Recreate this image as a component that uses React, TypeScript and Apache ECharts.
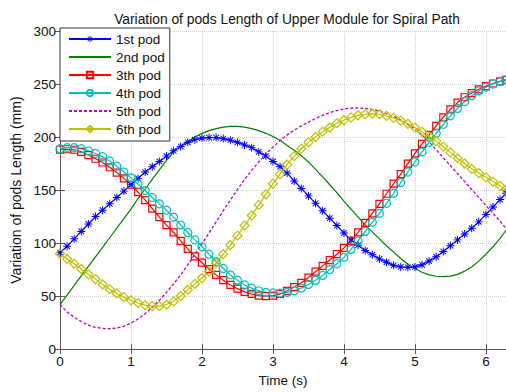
import React, { useEffect, useRef } from "react";
import * as echarts from "echarts";

const T = [0, 0.1, 0.2, 0.3, 0.4, 0.5, 0.6, 0.7, 0.8, 0.9,
  1.0, 1.1, 1.2, 1.3, 1.4, 1.5, 1.6, 1.7, 1.8, 1.9,
  2.0, 2.1, 2.2, 2.3, 2.4, 2.5, 2.6, 2.7, 2.8, 2.9,
  3.0, 3.1, 3.2, 3.3, 3.4, 3.5, 3.6, 3.7, 3.8, 3.9,
  4.0, 4.1, 4.2, 4.3, 4.4, 4.5, 4.6, 4.7, 4.8, 4.9,
  5.0, 5.1, 5.2, 5.3, 5.4, 5.5, 5.6, 5.7, 5.8, 5.9,
  6.0, 6.1, 6.2, 6.2832];

const pod1 = [91, 97, 104, 111, 118, 125, 131, 137, 143, 149,
  155, 161, 167, 172, 177, 182, 187, 191, 195, 197.5,
  199, 199.5, 199.5, 198.5, 197, 195, 192.5, 190, 186, 182,
  177, 172, 166, 158.5, 151.5, 144.5, 137.5, 130.5, 123.5, 116.5,
  109.5, 103, 98, 93, 89, 85, 82, 79, 77.5, 77,
  77.5, 79.5, 83, 87, 92, 97.5, 103, 108.5, 114, 120,
  127, 134, 141, 147];

const pod2 = [42, 51, 60, 69, 78, 87, 96, 105, 114, 123,
  132, 142, 151, 160, 169, 178, 186, 191.5, 196, 200,
  203.5, 206, 208, 209.3, 210, 210, 209.3, 208, 206, 203.5,
  200.5, 197, 192, 187.5, 182.5, 176.5, 169.5, 162.5, 155, 147.5,
  139.5, 132, 124.5, 117, 110.5, 104, 97.5, 91.5, 85.5, 80,
  76, 72.5, 70, 68.7, 68.3, 68.8, 70.5, 73.5, 77.5, 83,
  89.5, 96.5, 104.5, 112];

const pod3 = [188, 188.5, 188, 186, 183, 179.5, 176, 171.5, 166.5, 161,
  155, 148, 140.5, 132.5, 124.5, 117, 110, 102, 94.5, 87.5,
  81.5, 75.5, 70, 65, 60.5, 57, 54, 52, 50.5, 50,
  50.5, 52, 55, 58.5, 62.5, 67.5, 73, 78.5, 84, 89.5,
  95.5, 102, 110, 119, 128, 137, 146.5, 156, 165, 175,
  184.5, 193.5, 202, 210.5, 218.5, 226, 232.5, 237.5, 241.5, 245,
  248, 250.5, 252.5, 254];

const pod4 = [189, 190, 190, 189, 187, 184.5, 181.5, 177.5, 172.5, 167,
  161.5, 155.5, 149.5, 143, 137, 131, 124.5, 117, 110, 103,
  96.5, 89.5, 82.5, 76, 70, 65, 60.5, 57.5, 55, 53.5,
  53, 52.8, 53.5, 55, 57.5, 61, 65, 69.5, 75, 80.5,
  86.5, 94, 102, 111, 119.5, 128, 137.5, 147, 157, 167,
  176.5, 186, 195, 203.5, 212, 220, 227, 233.5, 239, 243.5,
  247, 250, 252.5, 254];

const pod5 = [42, 35, 30, 26, 22.5, 20.5, 19.5, 19.2, 19.8, 21.5,
  24.5, 28.5, 33.5, 39.5, 46, 53.5, 61.5, 70, 79.5, 89.5,
  99.5, 109.5, 120, 130.5, 140.5, 150.5, 160, 168.5, 176.5, 184,
  190.5, 196.5, 202, 206.5, 210.5, 214, 217.5, 220.5, 223, 225,
  226.5, 227.3, 227.5, 227, 226, 224.5, 222, 219.5, 216, 212,
  207.5, 202, 195.5, 188, 180.5, 173, 165.5, 158, 150.5, 143,
  135.5, 128, 120.5, 114];

const pod6 = [90, 85, 80.5, 75.5, 70.5, 66, 61, 56.5, 52.5, 49,
  46, 43.5, 41.5, 40.5, 40.5, 42, 45, 50, 56, 61.5,
  67, 73, 81, 89.5, 98, 107, 116.5, 126, 136, 146,
  156, 165, 174, 182, 189, 195, 200, 205, 209, 213,
  216, 218.5, 220.5, 221.5, 222, 221.5, 220, 218, 215.5, 212.5,
  209, 205, 200.5, 196, 191, 185.5, 180, 175, 170, 166,
  162, 158, 154, 150];

const seriesNames = ["1st pod", "2nd pod", "3th pod", "4th pod", "5th pod", "6th pod"];
const xTicks = [0, 1, 2, 3, 4, 5, 6];
const yTicks = [0, 50, 100, 150, 200, 250, 300];

const FONT = "'Liberation Sans', Arial, Helvetica, sans-serif";
const STAR =
  "path://M0,4.4L10,4.4L10,5.6L0,5.6Z M4.4,0L5.6,0L5.6,10L4.4,10Z M1.92,1.08L8.92,8.08L8.08,8.92L1.08,1.92Z M8.08,1.08L8.92,1.92L1.92,8.92L1.08,8.08Z";

function pairs(vals: number[]) {
  return T.map((t, i) => [t, vals[i]]);
}

export default function App() {
  const ref = useRef<HTMLDivElement>(null);
  useEffect(() => {
    if (!ref.current) return;
    const chart = echarts.init(ref.current, undefined, { renderer: "svg" });
    const axisColor = "#555";
    const labelStyle = { color: "#111", fontSize: 13.5, fontFamily: FONT };
    const mk = (
      name: string,
      data: number[],
      color: string,
      symbol: string,
      size: number,
      filled: boolean,
      lineType: any = "solid",
      lw = 1.2
    ) => ({
      type: "line",
      name,
      data: pairs(data),
      color,
      symbol,
      symbolSize: size,
      showSymbol: symbol !== "none",
      lineStyle: { color, width: lw, type: lineType },
      itemStyle:
        symbol === "none"
          ? { color: "rgba(255,255,255,0)", borderColor: "rgba(255,255,255,0)", borderWidth: 0 }
          : filled
          ? { color, borderColor: color, borderWidth: 0 }
          : { color: "rgba(255,255,255,0)", borderColor: color, borderWidth: 1.2 },
      emphasis: { disabled: true },
      silent: true,
    });
    chart.setOption({
      animation: false,
      backgroundColor: "#fff",
      title: {
        text: "Variation of pods Length of Upper Module for Spiral Path",
        left: 282,
        top: 7,
        textAlign: "center",
        textStyle: { fontSize: 13.8, fontWeight: "normal", color: "#111", fontFamily: FONT },
      },
      legend: {
        data: seriesNames,
        orient: "vertical",
        left: 60,
        top: 28,
        itemWidth: 42,
        itemHeight: 8,
        itemGap: 4,
        padding: [4, 5, 5, 8],
        backgroundColor: "#fff",
        borderColor: "#333",
        borderWidth: 1,
        selectedMode: false,
        textStyle: { fontSize: 13.5, color: "#111", fontFamily: FONT, lineHeight: 14 },
      },
      grid: { left: 60, right: 0, top: 31, bottom: 35 },
      xAxis: [
        {
          type: "value",
          min: 0,
          max: 6.2832,
          interval: 1,
          name: "Time (s)",
          nameLocation: "middle",
          nameGap: 21,
          nameTextStyle: labelStyle,
          axisLine: { show: true, lineStyle: { color: axisColor, width: 1 } },
          axisTick: { show: true, inside: true, length: 5, lineStyle: { color: axisColor } },
          axisLabel: {
            ...labelStyle,
            margin: 5,
            showMaxLabel: false,
            formatter: (v: number) => (xTicks.includes(v) ? String(v) : ""),
          },
          splitLine: { show: true, lineStyle: { color: "#cfcfcf", type: "dotted", width: 1 } },
        },
        {
          type: "value",
          position: "top",
          min: 0,
          max: 6.2832,
          interval: 1,
          axisLine: { show: true, lineStyle: { color: axisColor, width: 1 } },
          axisTick: { show: true, inside: true, length: 5, lineStyle: { color: axisColor } },
          axisLabel: { show: false },
          splitLine: { show: false },
        },
      ],
      yAxis: [
        {
          type: "value",
          min: 0,
          max: 300,
          interval: 50,
          name: "Variation of pods Length (mm)",
          nameLocation: "middle",
          nameGap: 33,
          nameTextStyle: { ...labelStyle, fontSize: 14 },
          axisLine: { show: true, lineStyle: { color: axisColor, width: 1 } },
          axisTick: { show: true, inside: true, length: 5, lineStyle: { color: axisColor } },
          axisLabel: {
            ...labelStyle,
            margin: 4,
            formatter: (v: number) => (yTicks.includes(v) ? String(v) : ""),
          },
          splitLine: { show: true, lineStyle: { color: "#cfcfcf", type: "dotted", width: 1 } },
        },
        {
          type: "value",
          position: "right",
          min: 0,
          max: 300,
          interval: 50,
          axisLine: { show: true, lineStyle: { color: axisColor, width: 1 } },
          axisTick: { show: true, inside: true, length: 5, lineStyle: { color: axisColor } },
          axisLabel: { show: false },
          splitLine: { show: false },
        },
      ],
      series: [
        mk(seriesNames[0], pod1, "#0000ff", STAR, 8, true),
        mk(seriesNames[1], pod2, "#008000", "none", 0, true),
        mk(seriesNames[2], pod3, "#ff0000", "rect", 7, false),
        mk(seriesNames[3], pod4, "#00bfbf", "circle", 8, false),
        mk(seriesNames[4], pod5, "#bf00bf", "none", 0, true, [3, 2], 1.3),
        mk(seriesNames[5], pod6, "#bfbf00", "diamond", 9, false),
      ],
    });
    return () => chart.dispose();
  }, []);
  return (
    <div
      ref={ref}
      style={{ position: "fixed", left: 0, top: 0, width: 506, height: 392, background: "#fff" }}
    />
  );
}
